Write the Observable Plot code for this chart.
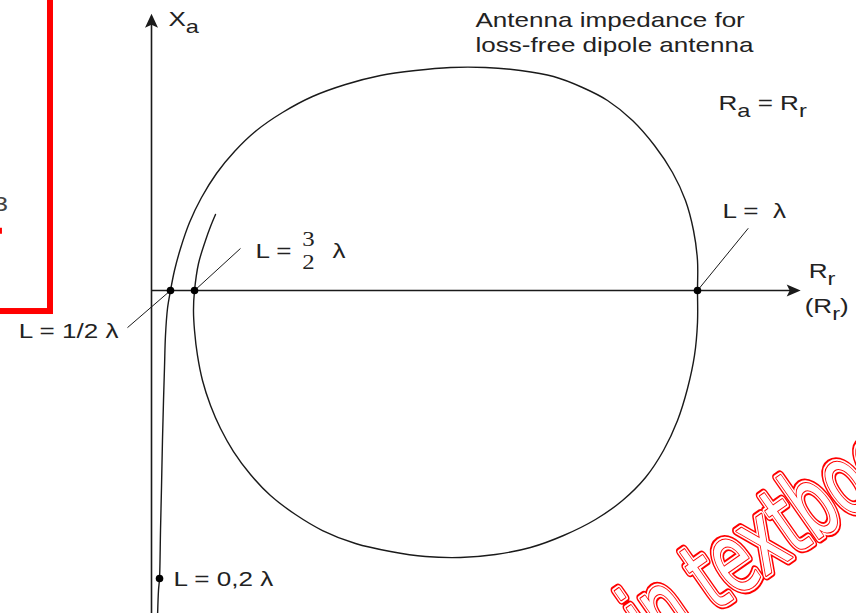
<!DOCTYPE html>
<html>
<head>
<meta charset="utf-8">
<script src="https://cdn.jsdelivr.net/npm/d3@7"></script>
<script src="https://cdn.jsdelivr.net/npm/@observablehq/plot@0.6"></script>
<style>
  html, body { margin: 0; padding: 0; background: #fff; }
  #chart svg { display: block; }
</style>
</head>
<body>
<div id="chart"></div>
<script>
// Impedance locus Za = Rr + jXa of a loss-free dipole as its length L grows
// (arbitrary units: the L = λ crossing sits at Rr = 100).
const locusR = [1.1, 1.28, 1.47, 1.65, 1.83, 2.01, 2.2, 2.38, 2.56, 2.93, 3.48,
  4.21, 5.31, 6.96, 9.16, 11.9, 15.2, 19.23, 23.99, 29.49, 35.53,
  41.94, 48.35, 54.76, 61.17, 67.58, 73.63, 78.94, 83.52, 88.1, 92.12,
  95.42, 97.8, 99.27, 100, 100,
  100, 99.45, 98.17, 96.34, 93.77, 90.48, 86.26, 81.32, 75.46, 69.41,
  63.0, 56.59, 50.18, 43.77, 37.36, 31.32, 26.37, 21.79, 18.13, 15.02,
  12.64, 10.81, 9.34, 8.42, 7.88, 7.69, 7.88,
  8.61, 9.89, 10.81, 11.72];
const locusX = [-60, -54.95, -52.75, -43.96, -36.08, -27.47, -20.15, -14.1, -8.24, -3.3, 0,
  3.66, 7.69, 12.45, 17.03, 21.43, 25.46, 29.3, 32.6, 35.53, 37.73,
  39.38, 40.29, 40.84, 40.84, 40.29, 39.19, 37.18, 34.8, 31.14, 26.56,
  21.61, 16.48, 10.99, 5.49, 0,
  -5.86, -11.9, -17.95, -23.81, -29.3, -34.25, -38.46, -41.94, -44.87, -47.07,
  -48.35, -48.9, -48.72, -47.8, -46.34, -43.96, -41.03, -37.55, -33.7, -29.49,
  -25.27, -21.06, -16.48, -11.9, -7.33, -3.66, 0,
  4.95, 9.16, 11.72, 13.92];

// Marked dipole lengths on the locus
const markNames = ["0,2 λ", "1/2 λ", "3/2 λ", "λ"];
const markR = [1.47, 3.48, 7.88, 100];
const markX = [-52.75, 0, 0, 0];

// Leader lines: from the marked point out to its label
const leaderNames = ["1/2 λ", "3/2 λ", "λ"];
const leaderEndR = [-4.4, 16.3, 109.3];
const leaderEndX = [-6.8, 7.7, 11.4];

// Axis extents
const axisRmax = 118.9;
const axisXmax = 50.7;
const axisXmin = -62;

// ---- tables built from the arrays above ----
const locus = locusR.map((R, i) => ({R, X: locusX[i]}));
const marks = markNames.map((name, i) => ({name, R: markR[i], X: markX[i]}));
const point = (name) => marks.find((d) => d.name === name);
const leaders = leaderNames.map((name, i) => ({
  name, R: point(name).R, X: point(name).X, R2: leaderEndR[i], X2: leaderEndX[i]
}));
const leaderEnd = (name) => leaders.filter((d) => d.name === name);

// ---- layout ----
const W = 856, H = 613;
const pxPerUnit = 5.46, originX = 151, originY = 290;
const ink = "#1a1a1a";
const sans = "'Liberation Sans', Arial, sans-serif";
const serif = "'Liberation Serif', 'Times New Roman', serif";
const stampFont = "'Liberation Sans Narrow', 'DejaVu Sans Condensed', 'DejaVu Sans', sans-serif";

// filled arrowheads with the tip at the symbol origin
const arrowRight = {draw(c) { c.moveTo(0, 0); c.lineTo(-14, -6); c.lineTo(-11, 0); c.lineTo(-14, 6); c.closePath(); }};
const arrowUp = {draw(c) { c.moveTo(0, 0); c.lineTo(-6.5, 14); c.lineTo(0, 11); c.lineTo(6.5, 14); c.closePath(); }};

const label = (data, opts) => Plot.text(data, {fontFamily: sans, fontSize: 21, fill: "#222", ...opts});
const stamp = (opts) => Plot.text(["in textbook"], {frameAnchor: "bottom-left", dx: 652, dy: 42, rotate: -35,
  textAnchor: "start", lineAnchor: "bottom", fontFamily: stampFont, fontSize: 98, fill: "#fff", ...opts});

const chart = Plot.plot({
  width: W,
  height: H,
  margin: 0,
  x: {domain: [-originX / pxPerUnit, (W - originX) / pxPerUnit], axis: null},
  y: {domain: [(originY - H) / pxPerUnit, originY / pxPerUnit], axis: null},
  style: {background: "#fff", overflow: "hidden"},
  marks: [
    // red callout frame at the left edge
    Plot.rect([0], {x1: -40, x2: -18.5, y1: -3.85, y2: 70, fill: "none", stroke: "#ff0000", strokeWidth: 6}),
    Plot.rect([0], {x1: -28, x2: -27.3, y1: 10.3, y2: 11.4, fill: "#ff0000"}),
    Plot.text(["3"], {x: -26.3, y: 15.8, textAnchor: "end", fontFamily: sans, fontSize: 21, fill: "#444"}),

    // axes
    Plot.ruleY([0], {x1: 0, x2: axisRmax - 1.5, stroke: ink, strokeWidth: 1.6}),
    Plot.ruleX([0], {y1: axisXmin, y2: axisXmax - 1.5, stroke: ink, strokeWidth: 1.6}),
    Plot.dot([0], {x: axisRmax, y: 0, symbol: arrowRight, fill: ink, stroke: "none"}),
    Plot.dot([0], {x: 0, y: axisXmax, symbol: arrowUp, fill: ink, stroke: "none"}),

    // impedance locus
    Plot.line(locus, {x: "R", y: "X", curve: "catmull-rom", stroke: ink, strokeWidth: 1.4}),

    // leaders and marked points
    Plot.link(leaders, {x1: "R", y1: "X", x2: "R2", y2: "X2", stroke: ink, strokeWidth: 1}),
    Plot.dot(marks, {x: "R", y: "X", r: 3.8, fill: "#000", stroke: "none"}),

    // length labels
    label(marks.filter((d) => d.name === "0,2 λ"), {x: "R", y: "X", text: (d) => `L = ${d.name}`, textAnchor: "start", dx: 14, dy: 1}),
    label(leaderEnd("1/2 λ"), {x: "R2", y: "X2", text: (d) => `L = ${d.name}`, textAnchor: "end", dx: -9, dy: 4}),
    label(leaderEnd("λ"), {x: "R2", y: "X2", text: (d) => `L = \u00a0${d.name}`, textAnchor: "middle", dx: 6, dy: -17}),
    // L = 3/2 λ, written with a stacked fraction
    label(leaderEnd("3/2 λ"), {x: "R2", y: "X2", text: () => "L =", textAnchor: "start", dx: 15, dy: 3}),
    Plot.text(leaderEnd("3/2 λ"), {x: "R2", y: "X2", text: () => "3", fontFamily: serif, fontSize: 20, fill: "#222", dx: 68, dy: -9}),
    Plot.text(leaderEnd("3/2 λ"), {x: "R2", y: "X2", text: () => "2", fontFamily: serif, fontSize: 20, fill: "#222", dx: 68, dy: 14}),
    label(leaderEnd("3/2 λ"), {x: "R2", y: "X2", text: () => "λ", textAnchor: "start", dx: 92, dy: 3}),

    // axis titles
    label([0], {x: 0, y: axisXmax, text: () => "X_a", textAnchor: "start", dx: 17, dy: 6}),
    label([0], {x: axisRmax, y: 0, text: () => "R_r", textAnchor: "start", dx: 8, dy: -19}),
    label([0], {x: axisRmax, y: 0, text: () => "(R_r)", textAnchor: "start", dx: 4, dy: 16}),

    // annotations
    label(["Antenna impedance for"], {frameAnchor: "top-left", dx: 475, dy: 12}),
    label(["loss-free dipole antenna"], {frameAnchor: "top-left", dx: 475, dy: 37}),
    label(["R_a = R_r"], {frameAnchor: "top-left", dx: 718, dy: 95}),

    // red stamp across the lower right corner (double outline)
    stamp({stroke: "#ff0000", strokeWidth: 10, paintOrder: "stroke"}),
    stamp({stroke: "#fff", strokeWidth: 6, paintOrder: "stroke"}),
    stamp({stroke: "#ff0000", strokeWidth: 2.2})
  ]
});

document.getElementById("chart").appendChild(chart);

// Subscripts: "R_r" → R with a lowered, smaller r
const svgNS = "http://www.w3.org/2000/svg";
const subShift = 7, subSize = 19;
for (const t of chart.querySelectorAll("text")) {
  const s = t.textContent;
  if (!s.includes("_") || t.children.length) continue;
  t.textContent = "";
  let low = false;
  s.split(/_(\w)/).forEach((part, i) => {
    if (!part) return;
    const sub = i % 2 === 1;
    const ts = document.createElementNS(svgNS, "tspan");
    ts.textContent = part;
    if (sub !== low) { ts.setAttribute("dy", sub ? subShift : -subShift); low = sub; }
    if (sub) ts.setAttribute("font-size", subSize);
    t.appendChild(ts);
  });
}

// The upright lettering is set a little wide; the slanted stamp is set narrow.
const stretch = 1.24, squeeze = 0.7;
for (const t of chart.querySelectorAll("text")) {
  const len = t.getComputedTextLength();
  if (!(len > 0)) continue;
  const slanted = (t.getAttribute("transform") || "").includes("rotate");
  t.setAttribute("textLength", (len * (slanted ? squeeze : stretch)).toFixed(1));
  t.setAttribute("lengthAdjust", "spacingAndGlyphs");
}
</script>
</body>
</html>
